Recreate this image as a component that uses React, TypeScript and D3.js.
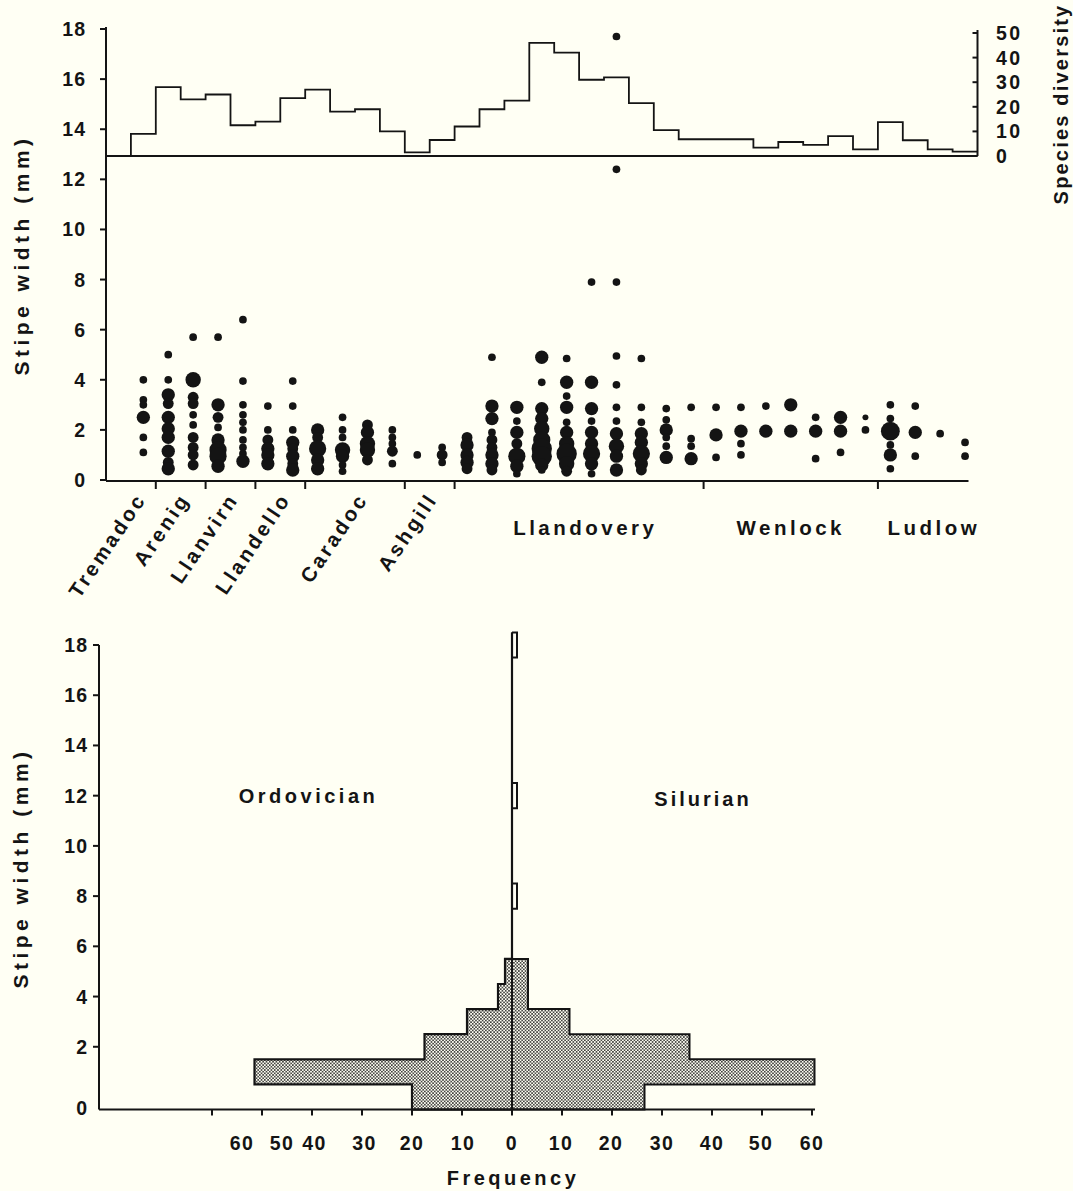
import React from "react";
import * as d3 from "d3";

// ===== data =====
const BIN_COUNT = 35;

// species diversity per time bin (step histogram on top)
const diversity = [
  0, 9, 28, 23, 25, 12.5, 14, 23.5, 27, 18, 19, 10, 1.5, 6.5, 12, 19, 22.5, 46,
  42, 31, 32, 21.5, 10.5, 6.8, 6.8, 6.8, 3.4, 5.7, 4.5, 8.1, 2.7, 13.8, 6.4, 2.7, 1.8,
];
const diversityTicks = [0, 10, 20, 30, 40, 50];

// series (stratigraphic) names, the bin edge that closes each, and where the label sits (bin units)
const seriesNames = ["Tremadoc", "Arenig", "Llanvirn", "Llandello", "Caradoc", "Ashgill", "Llandovery", "Wenlock", "Ludlow"];
const seriesEnd = [2, 4, 6, 8, 12, 14, 24, 31, 35];
const seriesLabelAt = [1.65, 3.4, 5.35, 7.45, 10.55, 13.35, 19.25, 27.5, 33.25];
const seriesRotated = [true, true, true, true, true, true, false, false, false];

// stipe widths: [time bin, width mm, number of species]
const stipePoints: [number, number, number][] = [
  [2, 4.0, 1], [2, 3.2, 1], [2, 3.0, 1], [2, 2.5, 3], [2, 1.7, 1], [2, 1.1, 1],
  [3, 5.0, 1], [3, 4.0, 1], [3, 3.4, 3], [3, 3.05, 2], [3, 2.5, 3], [3, 2.05, 3], [3, 1.7, 3], [3, 1.15, 3], [3, 0.7, 2], [3, 0.45, 3],
  [4, 5.7, 1], [4, 4.0, 4], [4, 3.3, 2], [4, 3.05, 2], [4, 2.6, 1], [4, 2.2, 1], [4, 1.7, 2], [4, 1.3, 2], [4, 1.0, 2], [4, 0.6, 2],
  [5, 5.7, 1], [5, 3.0, 3], [5, 2.5, 2], [5, 2.1, 1], [5, 1.6, 3], [5, 1.2, 5], [5, 0.95, 5], [5, 0.55, 3],
  [6, 6.4, 1], [6, 3.95, 1], [6, 3.0, 1], [6, 2.6, 1], [6, 2.3, 1], [6, 2.0, 1], [6, 1.6, 1], [6, 1.3, 1], [6, 1.05, 1], [6, 0.75, 3],
  [7, 2.95, 1], [7, 2.0, 1], [7, 1.6, 2], [7, 1.25, 3], [7, 1.0, 3], [7, 0.65, 3],
  [8, 3.95, 1], [8, 2.95, 1], [8, 2.0, 1], [8, 1.5, 3], [8, 1.25, 2], [8, 0.95, 3], [8, 0.65, 2], [8, 0.4, 3],
  [9, 2.0, 3], [9, 1.7, 2], [9, 1.25, 5], [9, 0.8, 3], [9, 0.45, 3],
  [10, 2.5, 1], [10, 2.0, 1], [10, 1.7, 1], [10, 1.2, 4], [10, 0.95, 3], [10, 0.6, 1], [10, 0.35, 1],
  [11, 2.2, 2], [11, 1.9, 3], [11, 1.45, 4], [11, 1.2, 4], [11, 0.8, 2],
  [12, 2.0, 1], [12, 1.7, 1], [12, 1.45, 1], [12, 1.15, 2], [12, 0.65, 1],
  [13, 1.0, 1],
  [14, 1.3, 1], [14, 1.0, 2], [14, 0.7, 1],
  [15, 1.7, 2], [15, 1.4, 3], [15, 1.0, 3], [15, 0.7, 3], [15, 0.45, 2],
  [16, 4.9, 1], [16, 2.95, 3], [16, 2.45, 3], [16, 1.9, 1], [16, 1.6, 2], [16, 1.3, 2], [16, 1.0, 3], [16, 0.65, 3], [16, 0.4, 2],
  [17, 2.9, 3], [17, 2.35, 1], [17, 1.9, 3], [17, 1.45, 2], [17, 0.95, 5], [17, 0.55, 3], [17, 0.25, 1],
  [18, 4.9, 3], [18, 3.9, 1], [18, 2.85, 3], [18, 2.45, 3], [18, 2.05, 4], [18, 1.6, 5], [18, 1.25, 7], [18, 0.95, 7], [18, 0.6, 3], [18, 0.4, 1],
  [19, 4.85, 1], [19, 3.9, 3], [19, 3.35, 1], [19, 2.9, 3], [19, 2.3, 1], [19, 1.9, 3], [19, 1.45, 4], [19, 1.05, 7], [19, 0.65, 4], [19, 0.35, 2],
  [20, 7.9, 1], [20, 3.9, 3], [20, 2.85, 3], [20, 2.35, 1], [20, 1.9, 3], [20, 1.45, 3], [20, 1.05, 5], [20, 0.65, 3], [20, 0.25, 1],
  [21, 17.7, 1], [21, 12.4, 1], [21, 7.9, 1], [21, 4.95, 1], [21, 3.8, 1], [21, 2.9, 1], [21, 2.35, 1], [21, 1.85, 3], [21, 1.35, 4], [21, 0.95, 3], [21, 0.4, 3],
  [22, 4.85, 1], [22, 2.9, 1], [22, 2.3, 1], [22, 1.85, 3], [22, 1.5, 3], [22, 1.05, 5], [22, 0.65, 3], [22, 0.4, 2],
  [23, 2.85, 1], [23, 2.4, 1], [23, 2.0, 3], [23, 1.7, 1], [23, 1.35, 1], [23, 0.9, 3],
  [24, 2.9, 1], [24, 1.65, 1], [24, 1.35, 1], [24, 0.85, 3],
  [25, 2.9, 1], [25, 1.8, 3], [25, 0.9, 1],
  [26, 2.9, 1], [26, 1.95, 3], [26, 1.45, 1], [26, 1.0, 1],
  [27, 2.95, 1], [27, 1.95, 3],
  [28, 3.0, 3], [28, 1.95, 3],
  [29, 2.5, 1], [29, 1.95, 3], [29, 0.85, 1],
  [30, 2.5, 3], [30, 1.95, 3], [30, 1.1, 1],
  [31, 2.5, 0.6], [31, 2.0, 1],
  [32, 3.0, 1], [32, 2.45, 1], [32, 1.95, 6], [32, 1.4, 1], [32, 1.0, 3], [32, 0.45, 1],
  [33, 2.95, 1], [33, 1.9, 3], [33, 0.95, 1],
  [34, 1.85, 1],
  [35, 1.5, 1], [35, 0.95, 1],
];
const widthTicks = [0, 2, 4, 6, 8, 10, 12, 14, 16, 18];

// frequency of stipe-width classes (1 mm classes, 0..18)
const ordovicianFreq = [20, 51.5, 17.5, 9, 2.8, 1.4, 0, 0, 0, 0, 0, 0, 0, 0, 0, 0, 0, 0, 0];
const silurianFreq = [26.5, 60.5, 35.5, 11.5, 3.2, 3.2, 0, 0, 1, 0, 0, 0, 1, 0, 0, 0, 0, 0, 1];
const freqTicks = [-60, -50, -40, -30, -20, -10, 0, 10, 20, 30, 40, 50, 60];
const freqLabelAt = [-54, -46, -39.5, -29.5, -20, -9.8, 0, 9.8, 19.8, 30, 40, 49.8, 60];

const W = 1073;
const H = 1191;
const FONT = "'Liberation Sans', Arial, Helvetica, sans-serif";
const INK = "#141414";
const BG = "#fffff4";

export default function App() {
  // ===== top panel scales =====
  const x = d3.scaleLinear().domain([0, BIN_COUNT]).range([106, 977.5]);
  const yW = d3.scaleLinear().domain([0, 18]).range([480, 29]);
  const yD = d3.scaleLinear().domain([0, 50]).range([156, 33]);
  const r = d3.scaleSqrt().domain([0, 1]).range([0, 3.85]);

  const stepPts: [number, number][] = diversity.map((d, i) => [x(i), yD(d)] as [number, number]);
  stepPts.push([x(BIN_COUNT), yD(diversity[BIN_COUNT - 1])]);
  const stepPath = d3.line().curve(d3.curveStepAfter)(stepPts) || "";

  // ===== bottom panel scales =====
  const xF = d3.scaleLinear().domain([-60, 60]).range([212, 812]);
  const yB = d3.scaleLinear().domain([0, 18]).range([1097, 645]);
  const classes = d3.range(ordovicianFreq.length);

  const contour = (freq: number[], sign: number) => {
    const pts: [number, number][] = [[xF(0), yB(-0.5)]];
    freq.forEach((f, k) => {
      pts.push([xF(sign * f), yB(k - 0.5)]);
      pts.push([xF(sign * f), yB(k + 0.5)]);
    });
    pts.push([xF(0), yB(freq.length - 0.5)]);
    return d3.line()(pts) || "";
  };

  const tickText = { fontFamily: FONT, fontWeight: 700, fontSize: 19.5, fill: INK } as const;
  const labelText = { fontFamily: FONT, fontWeight: 700, fontSize: 20, fill: INK } as const;

  return (
    <svg
      width={W}
      height={H}
      viewBox={`0 0 ${W} ${H}`}
      style={{ position: "absolute", left: 0, top: 0, display: "block" }}
    >
      <defs>
        <pattern id="stipple" patternUnits="userSpaceOnUse" width={3.3} height={3.3}>
          <circle cx={0.8} cy={0.8} r={0.78} fill="#000" />
          <circle cx={2.45} cy={2.45} r={0.78} fill="#000" />
        </pattern>
      </defs>
      <rect width={W} height={H} fill={BG} />

      {/* ===== top panel ===== */}
      <g stroke={INK} strokeWidth={2} fill="none">
        <line x1={x(0)} x2={x(0)} y1={yW(0) + 1} y2={yW(18) - 2} />
        <line x1={x(0)} x2={x(BIN_COUNT) - 9} y1={yW(0) + 1} y2={yW(0) + 1} />
        <line x1={x(0)} x2={x(BIN_COUNT)} y1={yD(0)} y2={yD(0)} />
        <line x1={x(BIN_COUNT)} x2={x(BIN_COUNT)} y1={yD(0)} y2={yD(50) - 3} />
        <path d={stepPath} strokeWidth={1.8} />
        {widthTicks.map((t) => (
          <line key={t} x1={x(0) - 6} x2={x(0)} y1={yW(t)} y2={yW(t)} />
        ))}
        {diversityTicks.map((t) => (
          <line key={t} x1={x(BIN_COUNT) - 5} x2={x(BIN_COUNT)} y1={yD(t)} y2={yD(t)} />
        ))}
        {seriesEnd.slice(0, -1).map((e) => (
          <line key={e} x1={x(e)} x2={x(e)} y1={yW(0) + 1} y2={yW(0) + 9} />
        ))}
      </g>

      {stipePoints.map(([b, w, n], i) => (
        <circle key={i} cx={x(b - 0.5)} cy={yW(w)} r={r(n)} fill={INK} />
      ))}

      {widthTicks.map((t) => (
        <text key={t} x={86} y={yW(t) + 7} textAnchor="end" letterSpacing={1} {...tickText}>
          {t}
        </text>
      ))}
      {diversityTicks.map((t) => (
        <text key={t} x={996} y={yD(t) + 7} letterSpacing={2.5} {...tickText}>
          {t}
        </text>
      ))}

      <text
        transform={`translate(29,255) rotate(-90)`}
        textAnchor="middle"
        letterSpacing={4.5}
        {...labelText}
        fontSize={21}
      >
        Stipe width (mm)
      </text>
      <text
        transform={`translate(1068,104) rotate(-90)`}
        textAnchor="middle"
        letterSpacing={2.2}
        {...labelText}
      >
        Species diversity
      </text>

      {seriesNames.map((s, i) =>
        seriesRotated[i] ? (
          <text
            key={s}
            transform={`translate(${x(seriesLabelAt[i])},${yW(0) + 19}) rotate(-56)`}
            textAnchor="end"
            letterSpacing={3}
            {...labelText}
            fontSize={20.5}
          >
            {s}
          </text>
        ) : (
          <text
            key={s}
            x={x(seriesLabelAt[i])}
            y={yW(0) + 55}
            textAnchor="middle"
            letterSpacing={3.5}
            {...labelText}
            fontSize={20.5}
          >
            {s}
          </text>
        )
      )}

      {/* ===== bottom panel ===== */}
      <g>
        {classes.map((k) => (
          <g key={k}>
            {ordovicianFreq[k] > 0 && (
              <rect
                x={xF(-ordovicianFreq[k])}
                width={xF(0) - xF(-ordovicianFreq[k])}
                y={yB(k + 0.5)}
                height={yB(k - 0.5) - yB(k + 0.5)}
                fill="url(#stipple)"
              />
            )}
            {silurianFreq[k] > 0 && (
              <rect
                x={xF(0)}
                width={xF(silurianFreq[k]) - xF(0)}
                y={yB(k + 0.5)}
                height={yB(k - 0.5) - yB(k + 0.5)}
                fill={silurianFreq[k] > 2 ? "url(#stipple)" : "none"}
              />
            )}
          </g>
        ))}
      </g>
      <g stroke={INK} strokeWidth={2} fill="none" strokeLinejoin="miter">
        <path d={contour(ordovicianFreq, -1)} strokeWidth={2.2} />
        <path d={contour(silurianFreq, 1)} strokeWidth={2} />
        <line x1={xF(0)} x2={xF(0)} y1={yB(-0.5)} y2={yB(18.5)} />
        <line x1={99} x2={99} y1={yB(-0.5)} y2={yB(18)} />
        <line x1={99} x2={xF(60) + 3} y1={yB(-0.5)} y2={yB(-0.5)} />
        {widthTicks.filter((t) => t > 0).map((t) => (
          <line key={t} x1={93} x2={99} y1={yB(t)} y2={yB(t)} />
        ))}
        {freqTicks.map((t) => (
          <line key={t} x1={xF(t)} x2={xF(t)} y1={yB(-0.5)} y2={yB(-0.5) + 6} />
        ))}
      </g>

      {widthTicks.map((t) => (
        <text
          key={t}
          x={88}
          y={(t === 0 ? yB(-0.5) - 2 : yB(t)) + 7}
          textAnchor="end"
          letterSpacing={1}
          {...tickText}
        >
          {t}
        </text>
      ))}
      {freqTicks.map((t, i) => (
        <text
          key={t}
          x={xF(freqLabelAt[i])}
          y={1150}
          textAnchor="middle"
          letterSpacing={1.5}
          {...tickText}
        >
          {Math.abs(t)}
        </text>
      ))}

      <text
        transform={`translate(28,868) rotate(-90)`}
        textAnchor="middle"
        letterSpacing={4.5}
        {...labelText}
        fontSize={21}
      >
        Stipe width (mm)
      </text>
      <text x={xF(-40.7)} y={yB(11.7)} textAnchor="middle" letterSpacing={3.5} {...labelText}>
        Ordovician
      </text>
      <text x={xF(38.2)} y={yB(11.6)} textAnchor="middle" letterSpacing={3} {...labelText}>
        Silurian
      </text>
      <text x={xF(0.2)} y={1185} textAnchor="middle" letterSpacing={3.5} {...labelText}>
        Frequency
      </text>
    </svg>
  );
}
